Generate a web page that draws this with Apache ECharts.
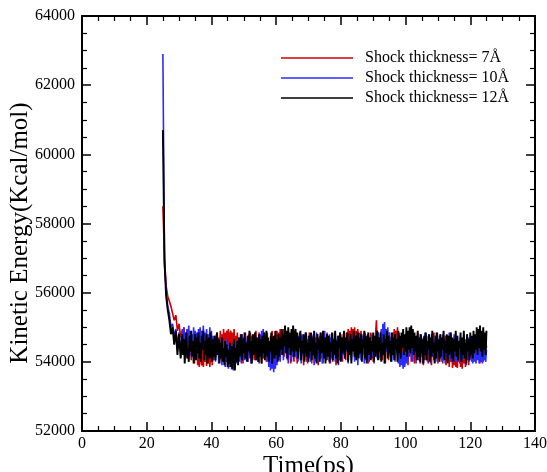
<!DOCTYPE html>
<html>
<head>
<meta charset="utf-8">
<script src="https://cdn.jsdelivr.net/npm/echarts@6/dist/echarts.min.js"></script>
<style>
  html, body { margin: 0; padding: 0; background: #fff; }
  #chart { width: 547px; height: 472px; }
</style>
</head>
<body>
<div id="chart"></div>
<script>
// sampling of the trajectories (ps): relaxation part, then the steady part
const relaxStart = 25;
const relaxStep = 0.5;
const noiseStart = 31;
const noiseStep = 0.25;

const seriesNames = ['Shock thickness= 7\u00c5', 'Shock thickness= 10\u00c5', 'Shock thickness= 12\u00c5'];

// 25.0 .. 30.5 ps
const red7Relax = [58500, 57000, 56200, 55900, 55750, 55600, 55400, 55200, 55350, 54900, 55100, 54700];
const blue10Relax = [62900, 56800, 56100, 55600, 55400, 55000, 55100, 54700, 54950, 54500, 54850, 54300];
const black12Relax = [60700, 56900, 55900, 55500, 55200, 54800, 55000, 54500, 54900, 54200, 54800, 54100];

// 31 .. 125 ps, one row per 5 ps
const red7Noise = [
  54900, 54250, 55000, 54150, 54700, 54400, 54950, 54100, 54850, 54300, 54600, 54050, 54800, 54200, 54500, 53950, 54750, 54100, 54650, 53900,
  54450, 53850, 54300, 54100, 53900, 54550, 53850, 54250, 54000, 54600, 53880, 54350, 53950, 54500, 53850, 54200, 54650, 53900, 54400, 54050,
  54750, 54150, 54600, 54850, 54250, 54700, 54050, 54900, 54400, 54800, 54150, 54950, 54350, 54850, 54200, 54900, 54450, 54950, 54250, 54800,
  54900, 54300, 54850, 54150, 54950, 54400, 54750, 54100, 54850, 54250, 54650, 54000, 54800, 54350, 54550, 53950, 54700, 54200, 54850, 54050,
  54600, 54000, 54750, 54300, 54850, 53950, 54650, 54200, 54800, 54050, 54550, 54900, 54100, 54700, 54000, 54850, 54250, 54600, 53950, 54750,
  54100, 54800, 54300, 54650, 54000, 54850, 54200, 54550, 53950, 54750, 54350, 54900, 54100, 54600, 54000, 54800, 54250, 54900, 54150, 54850,
  54300, 54950, 54400, 54850, 54250, 54950, 54150, 54800, 54350, 54700, 54050, 54850, 54200, 54600, 53950, 54750, 54300, 54650, 54000, 54800,
  54150, 54700, 53950, 54600, 54300, 54850, 54050, 54750, 54200, 54550, 53900, 54700, 54350, 54800, 54000, 54650, 54250, 54850, 54100, 54600,
  53950, 54750, 54300, 54850, 54000, 54600, 54200, 54800, 53900, 54700, 54400, 54850, 54100, 54550, 53950, 54750, 54250, 54650, 54050, 54850,
  54200, 54700, 53950, 54550, 54350, 54800, 54000, 54650, 54250, 54850, 53900, 54600, 54150, 54750, 54050, 54850, 54300, 54700, 54000, 54800,
  54250, 54650, 54050, 54850, 54300, 54950, 54450, 54900, 54350, 55000, 54500, 54950, 54400, 55000, 54300, 54900, 54450, 54950, 54200, 54850,
  54400, 54900, 54150, 54750, 54300, 54850, 54050, 54650, 54200, 54800, 53950, 54700, 54350, 54850, 54100, 54600, 54000, 54750, 54250, 54850,
  55200, 54300, 54850, 54100, 54700, 54400, 54900, 54050, 54650, 54200, 54800, 53950, 54750, 54300, 54600, 54050, 54850, 54200, 54700, 54400,
  54850, 54250, 54950, 54450, 54900, 54300, 55000, 54350, 54850, 54150, 54700, 54000, 54800, 54250, 54600, 53950, 54750, 54100, 54650, 53900,
  54700, 54200, 54850, 54000, 54600, 54300, 54800, 53950, 54700, 54150, 54550, 54850, 54050, 54650, 53950, 54750, 54200, 54600, 53900, 54700,
  54050, 54800, 54250, 54600, 53950, 54750, 54100, 54550, 53900, 54700, 54300, 54850, 54000, 54650, 54200, 54750, 53950, 54600, 54100, 54800,
  54250, 54650, 53950, 54550, 54100, 54750, 53900, 54500, 54050, 54600, 53850, 54400, 54000, 54550, 53820, 54350, 53900, 54450, 53850, 54300,
  53820, 54400, 54000, 54500, 53850, 54350, 53800, 54450, 53950, 54550, 53850, 54300, 54050, 54600, 53900, 54500, 54100, 54700, 54000, 54650,
  54150, 54750, 54050, 54600, 54300, 54800, 54100, 54700, 53950, 54650, 54250, 54750, 54000, 54600, 54200, 54800, 54400
];

const blue10Noise = [
  54950, 54300, 55000, 54400, 54850, 54200, 54950, 54500, 55050, 54350, 54900, 54150, 54800, 54450, 55000, 54250, 54900, 54400, 54850, 54100,
  54950, 54350, 55000, 54200, 54900, 54500, 55050, 54300, 54850, 54150, 54950, 54400, 54800, 54250, 55000, 54350, 54900, 54100, 54750, 54200,
  54650, 54000, 54800, 54300, 54550, 53950, 54700, 54150, 54500, 53900, 54600, 54050, 54450, 53850, 54650, 54000, 54400, 53800, 54550, 53850,
  54350, 53780, 54500, 53750, 54300, 53850, 54600, 53950, 54450, 54000, 54700, 54100, 54550, 53950, 54800, 54200, 54650, 54050, 54750, 54150,
  54600, 54000, 54800, 54250, 54650, 53950, 54750, 54100, 54550, 54300, 54850, 54050, 54700, 54200, 54600, 53950, 54800, 54350, 54900, 54150,
  54950, 54400, 54850, 54300, 54700, 54000, 54450, 53850, 54550, 53750, 54400, 53800, 54300, 53700, 54500, 53800, 54350, 53900, 54600, 54050,
  54450, 54000, 54700, 54200, 54800, 54050, 54650, 54300, 54850, 54100, 54600, 53950, 54750, 54250, 54550, 54000, 54800, 54150, 54700, 54350,
  54850, 54100, 54650, 54000, 54750, 54300, 54550, 53950, 54800, 54200, 54700, 54050, 54850, 54250, 54600, 53950, 54750, 54150, 54650, 54000,
  54800, 54250, 54600, 53900, 54700, 54150, 54850, 54300, 54550, 54000, 54750, 54200, 54650, 53950, 54800, 54350, 54900, 54100, 54700, 54050,
  54600, 54250, 54800, 53950, 54700, 54100, 54550, 54300, 54850, 54000, 54650, 54150, 54750, 53900, 54600, 54250, 54800, 54050, 54700, 54200,
  54850, 54100, 54650, 54300, 54750, 53950, 54600, 54200, 54800, 54050, 54700, 54350, 54550, 54000, 54850, 54150, 54650, 53900, 54750, 54250,
  54600, 54050, 54800, 54200, 54700, 53950, 54850, 54300, 54550, 54100, 54750, 54000, 54650, 54250, 54800, 54150, 54700, 53950, 54600, 54200,
  54750, 54100, 54850, 54300, 54650, 54050, 54950, 54450, 55100, 54350, 55150, 54500, 54950, 54300, 55000, 54250, 54850, 54150, 54700, 54000,
  54650, 54200, 54800, 54000, 54550, 54250, 54700, 53950, 54500, 53850, 54400, 53900, 54300, 53800, 54450, 53850, 54350, 53950, 54550, 54000,
  54700, 54150, 54850, 54300, 54650, 54000, 54800, 54200, 54600, 53950, 54750, 54250, 54550, 54050, 54800, 54150, 54700, 53950, 54650, 54300,
  54850, 54100, 54600, 54000, 54750, 54250, 54550, 53950, 54800, 54150, 54700, 54050, 54650, 54300, 54850, 54000, 54600, 54200, 54750, 54100,
  54550, 54000, 54800, 54250, 54650, 53950, 54750, 54150, 54600, 54300, 54850, 54050, 54700, 54200, 54550, 53950, 54800, 54100, 54650, 54000,
  54750, 54250, 54600, 53950, 54700, 54150, 54550, 54050, 54800, 54200, 54650, 53900, 54500, 54100, 54700, 54000, 54600, 54250, 54550, 53950,
  54450, 54000, 54550, 53950, 54400, 54050, 54500, 53950, 54350, 54000, 54450, 53950, 54400, 54050, 54500, 54000, 54350
];

const black12Noise = [
  54800, 54200, 54650, 53950, 54500, 54850, 54100, 54400, 54000, 54750, 54300, 54900, 54150, 54600, 53950, 54450, 54800, 54050, 54700, 54250,
  54850, 54100, 54550, 54000, 54750, 54350, 54900, 54050, 54600, 54200, 54800, 53950, 54500, 54700, 54100, 54850, 54300, 54000, 54650, 54150,
  54750, 54050, 54450, 54850, 54200, 54650, 53950, 54550, 54100, 54700, 54000, 54400, 53900, 54600, 54150, 54500, 53850, 54350, 53950, 54550,
  53850, 54450, 53800, 54300, 54650, 53750, 54400, 54000, 54600, 53900, 54700, 54150, 54500, 54800, 54050, 54650, 54250, 54850, 54100, 54550,
  54000, 54750, 54300, 54900, 54100, 54600, 53950, 54800, 54200, 54450, 54850, 54050, 54700, 54350, 54000, 54800, 54150, 54650, 53950, 54750,
  54250, 54850, 54050, 54500, 54900, 54150, 54700, 54000, 54600, 54300, 54850, 53950, 54550, 54750, 54100, 54900, 54200, 54650, 54000, 54800,
  54150, 54700, 54350, 54950, 54200, 54800, 54450, 55050, 54250, 54900, 54100, 55000, 54400, 54850, 54200, 54950, 54300, 55050, 54150, 54750,
  54950, 54300, 54850, 54100, 54700, 54400, 54900, 54050, 54600, 54250, 54800, 54000, 54650, 54850, 54150, 54550, 54000, 54750, 54300, 54850,
  54050, 54700, 54200, 54900, 54100, 54550, 53950, 54800, 54350, 54650, 54000, 54850, 54250, 54500, 54900, 54100, 54700, 53950, 54600, 54800,
  54150, 54750, 54000, 54550, 54300, 54850, 54050, 54650, 54200, 54900, 54100, 54600, 53950, 54750, 54400, 54850, 54000, 54700, 54250, 54550,
  54900, 54100, 54700, 54350, 54850, 54000, 54600, 54200, 54800, 53950, 54650, 54300, 54900, 54150, 54750, 54050, 54550, 54850, 54100, 54700,
  54250, 54800, 54000, 54650, 54400, 54900, 54100, 54750, 53950, 54550, 54850, 54200, 54700, 54050, 54600, 54300, 54850, 54000, 54750, 54150,
  54650, 54900, 54050, 54700, 54300, 54850, 54000, 54550, 54200, 54800, 53950, 54650, 54400, 54900, 54100, 54750, 54250, 54600, 54000, 54850,
  54200, 54700, 54050, 54800, 54350, 54650, 54000, 54900, 54250, 54750, 54100, 54850, 54400, 54950, 54200, 54800, 54300, 55000, 54150, 54900,
  54350, 55000, 54250, 55050, 54400, 54950, 54200, 54850, 54300, 54750, 54050, 54900, 54150, 54700, 54000, 54800, 54250, 54650, 53950, 54750,
  54200, 54850, 54050, 54600, 54350, 54800, 54000, 54700, 54150, 54900, 54250, 54550, 53950, 54750, 54100, 54850, 54300, 54650, 54000, 54800,
  54150, 54700, 54350, 54900, 54050, 54600, 54250, 54800, 53950, 54750, 54200, 54550, 54850, 54100, 54700, 54000, 54650, 54300, 54900, 54150,
  54750, 54050, 54600, 54400, 54850, 54000, 54700, 54200, 54900, 54100, 54550, 53950, 54800, 54300, 54650, 54050, 54850, 54200, 54750, 54100,
  54900, 54250, 54800, 54350, 55000, 54200, 54950, 54400, 55050, 54300, 54900, 54150, 55000, 54350, 54850, 54200, 54900
];

const xTicks = { min: 0, max: 140, interval: 20 };
const yTicks = { min: 52000, max: 64000, interval: 2000 };

const colors = ['#d00000', '#2b2bff', '#000000'];
const widths = [1.6, 1.6, 1.9];

function toPairs(relax, noise) {
  const pts = relax.map((v, i) => [relaxStart + i * relaxStep, v]);
  return pts.concat(noise.map((v, i) => [noiseStart + i * noiseStep, v]));
}

const serif = 'Liberation Serif, Times New Roman, serif';

function frameAxis(extra) {
  return Object.assign({
    type: 'value',
    axisLine: { show: true, onZero: false, lineStyle: { color: '#000', width: 2 } },
    axisTick: { show: true, inside: true, length: 9, lineStyle: { color: '#000', width: 1.5 } },
    minorTick: { show: true, splitNumber: 4, length: 5, lineStyle: { color: '#000', width: 1.2 } },
    splitLine: { show: false },
    minorSplitLine: { show: false }
  }, extra);
}

const chart = echarts.init(document.getElementById('chart'));

chart.setOption({
  animation: false,
  backgroundColor: '#fff',
  grid: { left: 82, right: 12, top: 16, bottom: 41, outerBoundsMode: 'none' },
  legend: {
    orient: 'vertical',
    left: 276,
    top: 45,
    icon: 'rect',
    itemWidth: 72,
    itemHeight: 1.5,
    itemGap: 4,
    data: seriesNames,
    textStyle: { fontFamily: serif, fontSize: 16, lineHeight: 16, color: '#000', padding: [0, 0, 0, 7] }
  },
  xAxis: [
    frameAxis(Object.assign({}, xTicks, {
      position: 'bottom',
      name: 'Time(ps)',
      nameLocation: 'middle',
      nameGap: 23,
      nameMoveOverlap: false,
      nameTextStyle: { fontFamily: serif, fontSize: 25, color: '#000' },
      axisLabel: { color: '#000', fontFamily: serif, fontSize: 16, margin: 5 }
    })),
    frameAxis(Object.assign({}, xTicks, { position: 'top', axisLabel: { show: false } }))
  ],
  yAxis: [
    frameAxis(Object.assign({}, yTicks, {
      position: 'left',
      name: 'Kinetic Energy(Kcal/mol)',
      nameLocation: 'middle',
      nameGap: 49,
      nameMoveOverlap: false,
      nameTextStyle: { fontFamily: serif, fontSize: 25, color: '#000', padding: [0, 19, 0, 0] },
      axisLabel: { color: '#000', fontFamily: serif, fontSize: 16, margin: 7, formatter: (v) => String(v) }
    })),
    frameAxis(Object.assign({}, yTicks, { position: 'right', axisLabel: { show: false } }))
  ],
  series: [
    [red7Relax, red7Noise],
    [blue10Relax, blue10Noise],
    [black12Relax, black12Noise]
  ].map((parts, i) => ({
    name: seriesNames[i],
    type: 'line',
    xAxisIndex: 0,
    yAxisIndex: 0,
    symbol: 'none',
    color: colors[i],
    lineStyle: { color: colors[i], width: widths[i] },
    data: toPairs(parts[0], parts[1])
  }))
});
</script>
</body>
</html>
